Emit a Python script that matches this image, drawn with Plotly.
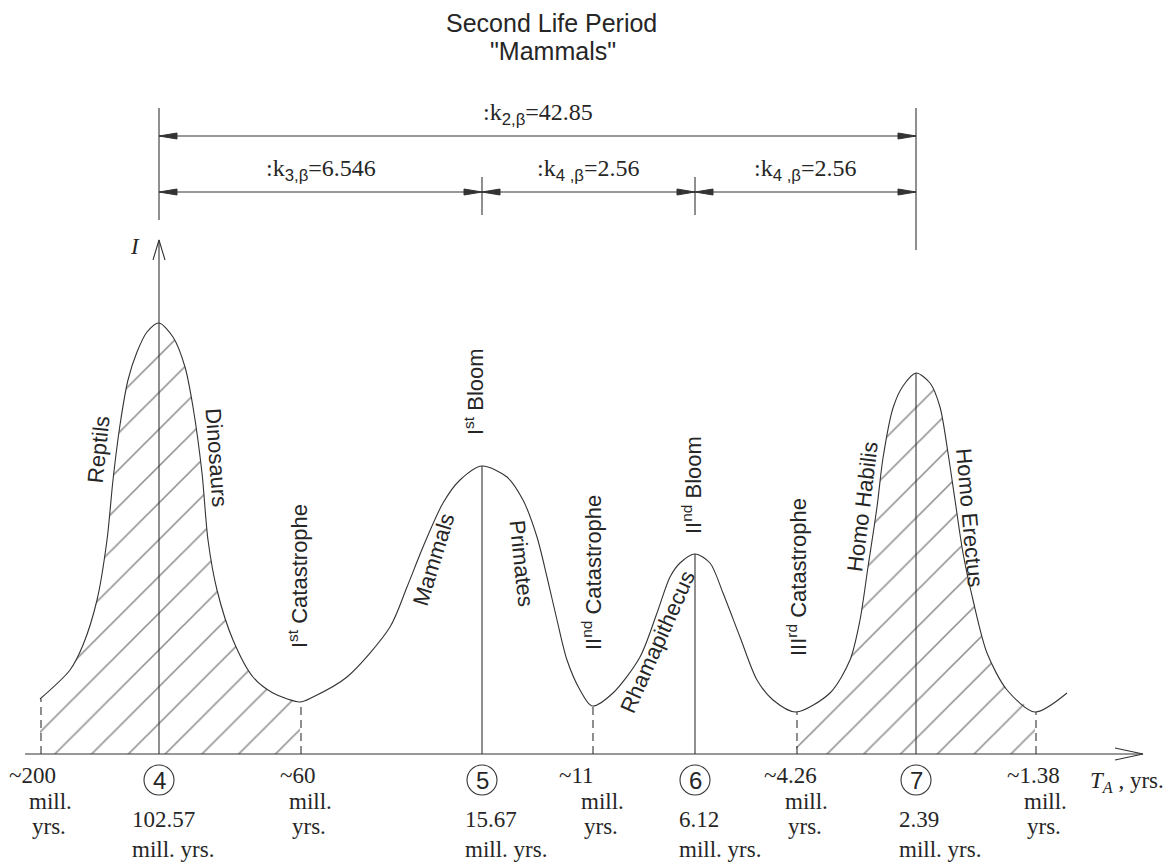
import plotly.graph_objects as go

# ---------------- data ----------------
# curve of intensity I along the (schematic) time axis; x = position along time axis, I = intensity level
curve_x = [40, 70, 83, 97, 107, 113, 120, 128, 137, 147, 159, 173, 185, 193, 202, 208, 217, 233, 253, 273, 300,
           313, 347, 390, 407, 423, 443, 460, 482, 507, 523, 537, 547, 557, 567, 580, 592,
           613, 640, 657, 670, 680, 695, 710, 723, 740, 757, 773, 796,
           830, 850, 860, 868, 877, 883, 893, 903, 916, 930, 940, 948, 955, 963, 973, 987, 1007, 1035, 1067]
curve_i = [55, 84, 109, 154, 214, 274, 329, 374, 402, 422, 431, 417, 387, 347, 281, 214, 164, 114, 77, 61, 52,
           57, 77, 127, 167, 207, 251, 274, 288, 277, 254, 217, 177, 134, 94, 64, 48,
           61, 97, 141, 177, 191, 200, 191, 161, 117, 74, 54, 42,
           61, 94, 134, 187, 247, 296, 346, 368, 381, 371, 347, 301, 254, 201, 154, 101, 64, 42, 61]

event_ids = ["4", "5", "6", "7"]
event_x = [159, 482, 695, 916]
event_dates = ["102.57", "15.67", "6.12", "2.39"]

bound_x = [40, 300, 592, 796, 1035]
bound_dates = ["200", "60", "11", "4.26", "1.38"]
hatched_spans = [(0, 1), (3, 4)]  # indices into bound_x

coef_labels = ["k<sub>2,β</sub>", "k<sub>3,β</sub>", "k<sub>4 ,β</sub>", "k<sub>4 ,β</sub>"]
coef_values = ["42.85", "6.546", "2.56", "2.56"]
coef_spans = [(0, 3), (0, 1), (1, 2), (2, 3)]  # indices into event_x

phase_labels = ["Reptils", "Dinosaurs", "I<sup>st</sup> Catastrophe", "Mammals", "I<sup>st</sup> Bloom",
                "Primates", "II<sup>nd</sup> Catastrophe", "II<sup>nd</sup> Bloom", "Rhamapithecus",
                "III<sup>rd</sup> Catastrophe", "Homo Habilis", "Homo Erectus"]

# ---------------- layout constants ----------------
W, H = 1168, 862
BASE = 754                     # pixel row of the time axis
LINE = "#333333"
TXT = "#262626"
SANS = "Liberation Sans, Arial, sans-serif"
SERIF = "Liberation Serif, Times New Roman, serif"

phase_pos = [(98, 304, -84), (217, 297, 86), (298, 178, -90), (433, 194, -73), (474, 362, -90),
             (522, 191, 84), (592, 181, -90), (692, 269, -90), (657, 112, -66), (797, 177, -90),
             (862, 247, -83), (970, 237, 85)]
bound_num_dx = [-33, -22, -35, -34, -30]
event_date_dx = [-29, -19, -18, -19]

def lookup(x):
    j = min(range(len(curve_x)), key=lambda k: abs(curve_x[k] - x))
    return curve_i[j]

fig = go.Figure()

# hatched areas
for a, b in hatched_spans:
    xs = [x for x in curve_x if bound_x[a] <= x <= bound_x[b]]
    ys = [curve_i[curve_x.index(x)] for x in xs]
    fig.add_trace(go.Scatter(x=xs, y=ys, mode="lines", line=dict(width=0, shape="spline", smoothing=0.8),
                             fill="tozeroy", fillcolor="white",
                             fillpattern=dict(shape="/", size=26, solidity=0.06, fgcolor="#1a1a1a", bgcolor="white"),
                             hoverinfo="skip"))

# main curve
fig.add_trace(go.Scatter(x=curve_x, y=curve_i, mode="lines",
                         line=dict(color=LINE, width=1.1, shape="spline", smoothing=0.8), hoverinfo="skip"))

def seg(xs, ys, dash=None, width=1.1, color=LINE):
    fig.add_trace(go.Scatter(x=xs, y=ys, mode="lines", line=dict(color=color, width=width, dash=dash),
                             hoverinfo="skip"))

def tri(tx, ty, direction, length=18, half=3):
    bx = tx - direction * length
    fig.add_trace(go.Scatter(x=[tx, bx, bx, tx], y=[ty, ty + half, ty - half, ty], mode="lines",
                             fill="toself", fillcolor=LINE, line=dict(color=LINE, width=1), hoverinfo="skip"))

# time axis with open arrow
x_end = 1143
seg([25, x_end], [0, 0])
seg([x_end - 28, x_end, x_end - 28], [6, 0, -6])
# intensity axis with open arrow
top_axis = BASE - 240
seg([event_x[0], event_x[0]], [0, top_axis])
seg([event_x[0] - 6, event_x[0], event_x[0] + 6], [top_axis - 20, top_axis, top_axis - 20])

# verticals at events (from axis to peak)
for ex in event_x[1:]:
    seg([ex, ex], [0, lookup(ex)])
# dashed boundaries
for bx in bound_x:
    seg([bx + 1, bx + 1], [0, lookup(bx)], dash="8px,5px")

# dimension lines
y_top = BASE - 136
y_mid = BASE - 192
ext_top = BASE - 108
seg([event_x[0], event_x[0]], [ext_top, BASE - 220])
seg([event_x[3], event_x[3]], [ext_top, BASE - 250])
for ex in event_x[1:3]:
    seg([ex, ex], [BASE - 177, BASE - 215])

for (a, b), lab, val in zip(coef_spans, coef_labels, coef_values):
    yy = y_top if (a, b) == (0, 3) else y_mid
    x0, x1 = event_x[a], event_x[b]
    seg([x0, x1], [yy, yy])
    tri(x0, yy, -1)
    tri(x1, yy, 1)
    sub_txt = lab.replace("<sub>", "<sub><span style='font-family:Liberation Sans'>").replace("</sub>", "</span></sub>")
    fig.add_annotation(x=(x0 + x1) / 2, y=yy + 22, text=":" + sub_txt + "=" + val, showarrow=False,
                       font=dict(family=SERIF, size=24, color=TXT), xanchor="center", yanchor="middle")

# event circles and dates
for eid, ex, ed, dx in zip(event_ids, event_x, event_dates, event_date_dx):
    cy = -(780 - BASE)
    fig.add_shape(type="circle", x0=ex - 15, x1=ex + 15, y0=cy - 15, y1=cy + 15,
                  line=dict(color=LINE, width=1.1))
    fig.add_annotation(x=ex, y=cy, text=eid, showarrow=False, font=dict(family=SANS, size=24, color=TXT),
                       xanchor="center", yanchor="middle")
    fig.add_annotation(x=ex + dx, y=-(819 - BASE), text=ed, showarrow=False,
                       font=dict(family=SERIF, size=23, color=TXT), xanchor="left", yanchor="middle")
    fig.add_annotation(x=ex + dx, y=-(849 - BASE), text="mill. yrs.", showarrow=False,
                       font=dict(family=SERIF, size=23, color=TXT), xanchor="left", yanchor="middle")

# boundary dates
for bx, bd, dx in zip(bound_x, bound_dates, bound_num_dx):
    fig.add_annotation(x=bx + dx, y=-(775 - BASE), text="~" + bd, showarrow=False,
                       font=dict(family=SERIF, size=23, color=TXT), xanchor="left", yanchor="middle")
    fig.add_annotation(x=bx + 10, y=-(801 - BASE), text="mill.", showarrow=False,
                       font=dict(family=SERIF, size=23, color=TXT), xanchor="center", yanchor="middle")
    fig.add_annotation(x=bx + 9, y=-(826 - BASE), text="yrs.", showarrow=False,
                       font=dict(family=SERIF, size=23, color=TXT), xanchor="center", yanchor="middle")

# phase labels
for lab, (px, pi, ang) in zip(phase_labels, phase_pos):
    fig.add_annotation(x=px, y=pi, text=lab, textangle=ang, showarrow=False,
                       font=dict(family=SANS, size=22, color=TXT), xanchor="center", yanchor="middle")

# axis titles
fig.add_annotation(x=1088, y=-(782 - BASE), text="<i>T</i><sub><i>A</i></sub> , yrs.", showarrow=False,
                   font=dict(family=SERIF, size=23, color=TXT), xanchor="left", yanchor="middle")
fig.add_annotation(x=135, y=BASE - 246, text="<i>I</i>", showarrow=False,
                   font=dict(family=SERIF, size=23, color=TXT), xanchor="center", yanchor="middle")

# title
fig.add_annotation(x=551, y=BASE - 23, text="Second Life Period", showarrow=False,
                   font=dict(family=SANS, size=25, color=TXT), xanchor="center", yanchor="middle")
fig.add_annotation(x=553, y=BASE - 51, text="\"Mammals\"", showarrow=False,
                   font=dict(family=SANS, size=25, color=TXT), xanchor="center", yanchor="middle")

fig.update_layout(width=W, height=H, margin=dict(l=0, r=0, t=0, b=0), showlegend=False,
                  paper_bgcolor="white", plot_bgcolor="white",
                  xaxis=dict(range=[0, W], visible=False, fixedrange=True),
                  yaxis=dict(range=[BASE - H, BASE], visible=False, fixedrange=True))

fig.write_html("out.html", config={"displayModeBar": False},
               post_script="document.body.style.margin='0';document.body.style.overflow='hidden';")
